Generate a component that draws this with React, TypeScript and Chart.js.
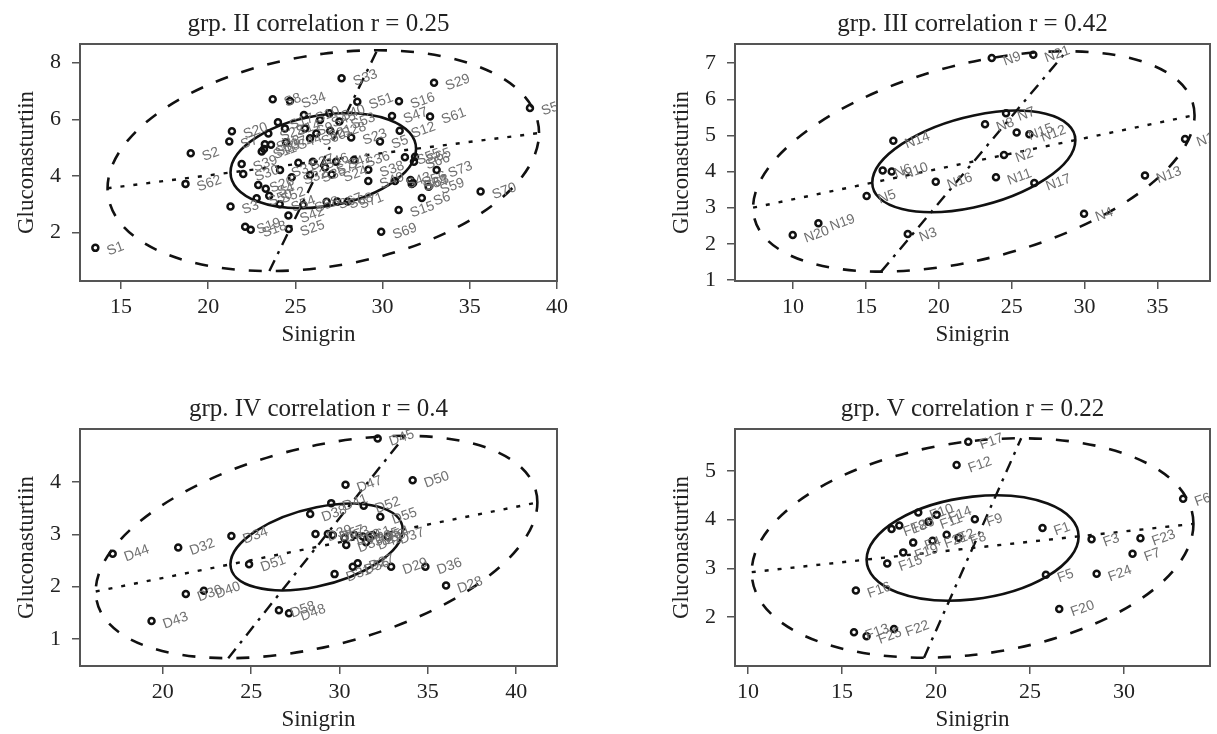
import React, { useEffect, useRef } from "react";
import { Chart, registerables } from "chart.js";

Chart.register(...registerables);

// ---------------- group II ----------------
const grp2Labels = [
  "S1", "S2", "S62", "S20", "S7", "S39", "S30", "S3", "S19", "S18", "S26", "S50", "S52", "S4",
  "S11", "S22", "S37", "S48", "S8", "S34", "S17", "S14", "S44", "S31", "S32", "S54", "S42", "S25",
  "S10", "S9", "S60", "S45", "S40", "S53", "S21", "S28", "S27", "S35", "S46", "S72", "S41", "S24",
  "S58", "S67", "S68", "S71", "S23", "S36", "S38", "S49", "S5", "S33", "S51", "S16", "S47", "S61",
  "S12", "S29", "S57", "S55", "S65", "S66", "S43", "S64", "S56", "S59", "S73", "S6", "S15", "S69", "S70",
  "S13", "S63",
];
const grp2Sinigrin = [
  13.53, 19.0, 18.7, 21.36, 21.21, 21.92, 22.01, 21.28, 22.12, 22.44, 22.87, 22.78, 23.5, 23.3,
  23.07, 23.45, 23.6, 23.25, 23.7, 24.69, 24.0, 24.4, 24.46, 24.12, 24.79, 24.1, 24.6, 24.62,
  25.49, 25.55, 25.84, 26.41, 26.95, 27.52, 26.2, 27.0, 25.17, 25.84, 26.0, 26.7, 27.33, 27.08,
  25.45, 26.79, 27.4, 28.0, 28.2, 28.36, 29.18, 29.18, 29.85, 27.65, 28.55, 30.94, 30.54, 32.72,
  30.98, 32.95, 38.45, 31.28, 31.86, 31.8, 30.71, 31.67, 31.6, 32.64, 33.1, 32.25, 30.92, 29.92, 35.62,
  23.2, 31.75,
];
const grp2Gluco = [
  1.46, 4.8, 3.72, 5.58, 5.22, 4.42, 4.07, 2.92, 2.21, 2.1, 3.68, 3.21, 3.3, 3.55,
  4.86, 5.5, 5.1, 5.12, 6.71, 6.65, 5.9, 5.68, 5.19, 4.21, 3.95, 3.0, 2.6, 2.13,
  6.15, 5.68, 5.33, 5.98, 6.21, 5.92, 5.5, 5.6, 4.47, 4.03, 4.5, 4.3, 4.5, 4.05,
  2.97, 3.09, 3.1, 3.1, 5.36, 4.56, 4.22, 3.82, 5.22, 7.45, 6.62, 6.64, 6.12, 6.1,
  5.6, 7.29, 6.4, 4.66, 4.68, 4.5, 3.82, 3.72, 3.86, 3.62, 4.21, 3.22, 2.8, 2.03, 3.45,
  4.95, 3.75,
];
const grp2XTicks = [15, 20, 25, 30, 35, 40];
const grp2YTicks = [2, 4, 6, 8];
const grp2Range = [12.65, 40.0, 0.29, 8.66];
// centre x, centre y, outer half-extent x, outer half-extent y, r, inner / outer ratio
const grp2Ellipse = [26.6, 4.54, 12.37, 3.9, 0.25, 0.43];

// ---------------- group III ----------------
const grp3Labels = [
  "N20", "N19", "N5", "N6", "N10", "N14", "N16", "N3", "N9", "N21", "N8", "N7", "N15", "N12",
  "N2", "N11", "N17", "N4", "N13", "N1",
];
const grp3Sinigrin = [
  9.98, 11.74, 15.05, 16.15, 16.77, 16.88, 19.79, 17.87, 23.63, 26.48, 23.17, 24.61, 25.34, 26.21,
  24.47, 23.92, 26.55, 29.96, 34.14, 36.89,
];
const grp3Gluco = [
  2.24, 2.57, 3.32, 4.03, 4.0, 4.85, 3.72, 2.27, 7.14, 7.23, 5.31, 5.61, 5.08, 5.03,
  4.46, 3.84, 3.68, 2.83, 3.89, 4.9,
];
const grp3XTicks = [10, 15, 20, 25, 30, 35];
const grp3YTicks = [1, 2, 3, 4, 5, 6, 7];
const grp3Range = [6.02, 38.6, 0.97, 7.53];
const grp3Ellipse = [22.4, 4.28, 15.14, 3.05, 0.42, 0.46];

// ---------------- group IV ----------------
const grp4Labels = [
  "D44", "D32", "D43", "D30", "D40", "D34", "D51", "D58", "D48", "D38", "D39", "D57", "D41", "D47",
  "D45", "D50", "D52", "D55", "D53", "D60", "D33", "D61", "D35", "D59", "D54", "D37", "D42", "D31",
  "D56", "D27", "D29", "D36", "D28",
];
const grp4Sinigrin = [
  17.16, 20.87, 19.36, 21.3, 22.32, 23.88, 24.88, 26.57, 27.14, 28.34, 28.64, 29.34, 29.53, 30.34,
  32.16, 34.14, 31.37, 32.31, 29.62, 30.28, 30.38, 30.85, 31.32, 31.69, 31.88, 32.73, 31.5, 29.72,
  30.75, 31.03, 32.92, 34.86, 36.03,
];
const grp4Gluco = [
  2.63, 2.75, 1.34, 1.86, 1.92, 2.97, 2.43, 1.55, 1.49, 3.39, 3.01, 3.01, 3.6, 3.95,
  4.84, 4.04, 3.55, 3.34, 2.99, 2.93, 2.8, 2.99, 2.96, 2.93, 2.99, 2.96, 2.85, 2.24,
  2.38, 2.45, 2.38, 2.38, 2.02,
];
const grp4XTicks = [20, 25, 30, 35, 40];
const grp4YTicks = [1, 2, 3, 4];
const grp4Range = [15.31, 42.31, 0.48, 5.02];
const grp4Ellipse = [28.7, 2.76, 12.5, 2.13, 0.4, 0.39];

// ---------------- group V ----------------
const grp5Labels = [
  "F13", "F25", "F22", "F16", "F15", "F19", "F4", "F21", "F2", "F8", "F18", "F26", "F10", "F11",
  "F14", "F9", "F12", "F17", "F1", "F3", "F23", "F7", "F24", "F5", "F20", "F6",
];
const grp5Sinigrin = [
  15.64, 16.31, 17.77, 15.74, 17.41, 18.26, 18.79, 19.82, 20.57, 21.2, 17.64, 18.05, 19.06, 19.6,
  20.04, 22.07, 21.1, 21.72, 25.67, 28.28, 30.88, 30.46, 28.55, 25.85, 26.56, 33.15,
];
const grp5Gluco = [
  1.69, 1.61, 1.76, 2.55, 3.1, 3.33, 3.53, 3.57, 3.69, 3.63, 3.81, 3.88, 4.15, 3.96,
  4.1, 4.01, 5.12, 5.6, 3.83, 3.6, 3.62, 3.3, 2.89, 2.87, 2.17, 4.43,
];
const grp5XTicks = [10, 15, 20, 25, 30];
const grp5YTicks = [2, 3, 4, 5];
const grp5Range = [9.31, 34.58, 1.0, 5.86];
const grp5Ellipse = [21.95, 3.42, 11.75, 2.25, 0.22, 0.48];

const titles = [
  "grp. II correlation r = 0.25",
  "grp. III correlation r = 0.42",
  "grp. IV correlation r = 0.4",
  "grp. V correlation r = 0.22",
];
const xAxisTitle = "Sinigrin";
const yAxisTitle = "Gluconasturtiin";

const panels = [
  { title: titles[0], labels: grp2Labels, xs: grp2Sinigrin, ys: grp2Gluco, xTicks: grp2XTicks, yTicks: grp2YTicks, range: grp2Range, ellipse: grp2Ellipse },
  { title: titles[1], labels: grp3Labels, xs: grp3Sinigrin, ys: grp3Gluco, xTicks: grp3XTicks, yTicks: grp3YTicks, range: grp3Range, ellipse: grp3Ellipse },
  { title: titles[2], labels: grp4Labels, xs: grp4Sinigrin, ys: grp4Gluco, xTicks: grp4XTicks, yTicks: grp4YTicks, range: grp4Range, ellipse: grp4Ellipse },
  { title: titles[3], labels: grp5Labels, xs: grp5Sinigrin, ys: grp5Gluco, xTicks: grp5XTicks, yTicks: grp5YTicks, range: grp5Range, ellipse: grp5Ellipse },
];

// ---------------- layout (pixels) ----------------
const LAYOUT = [
  { left: 0, top: 0, width: 577, height: 349, padRight: 20 },
  { left: 655, top: 0, width: 562, height: 349, padRight: 7 },
  { left: 0, top: 385, width: 577, height: 349, padRight: 20 },
  { left: 655, top: 385, width: 562, height: 349, padRight: 7 },
];
const Y_AXIS_W = 80;
const X_AXIS_H = 68;
const SERIF = '"Liberation Serif", "Times New Roman", serif';
const SANS = '"Liberation Sans", Arial, sans-serif';
const INK = "#111";

type PanelT = (typeof panels)[number];

function strokeEllipse(chart: any, e: number[], k: number, dash: number[]) {
  const { ctx } = chart;
  const xs = chart.scales.x;
  const ys = chart.scales.y;
  const [cx, cy, ax, ay, r] = e;
  const pcx = xs.getPixelForValue(cx);
  const pcy = ys.getPixelForValue(cy);
  const ux = xs.getPixelForValue(cx + k * ax) - pcx;
  const uy = ys.getPixelForValue(cy + k * ay) - pcy;
  const s = Math.sqrt(1 - r * r);
  ctx.save();
  ctx.beginPath();
  ctx.save();
  ctx.transform(ux, uy * r, 0, uy * s, pcx, pcy);
  ctx.arc(0, 0, 1, 0, Math.PI * 2);
  ctx.restore();
  ctx.setLineDash(dash);
  ctx.lineWidth = 2.6;
  ctx.strokeStyle = INK;
  ctx.stroke();
  ctx.restore();
}

function Panel({ p, lay }: { p: PanelT; lay: (typeof LAYOUT)[number] }) {
  const ref = useRef<HTMLCanvasElement>(null);
  useEffect(() => {
    const [cx, cy, ax, ay, r, inner] = p.ellipse;
    const pts = p.xs.map((x, i) => ({ x, y: p.ys[i] }));
    const regYonX = [
      { x: cx - ax, y: cy - ay * r },
      { x: cx + ax, y: cy + ay * r },
    ];
    const regXonY = [
      { x: cx - ax * r, y: cy - ay },
      { x: cx + ax * r, y: cy + ay },
    ];
    const decor = {
      id: "decor",
      beforeDatasetsDraw(chart: any) {
        const ca = chart.chartArea;
        const ctx = chart.ctx;
        ctx.save();
        ctx.beginPath();
        ctx.rect(ca.left, ca.top, ca.right - ca.left, ca.bottom - ca.top);
        ctx.clip();
        strokeEllipse(chart, p.ellipse, 1, [13, 14]);
        strokeEllipse(chart, p.ellipse, inner, []);
        ctx.restore();
      },
      afterDatasetsDraw(chart: any) {
        const ca = chart.chartArea;
        const ctx = chart.ctx;
        const meta = chart.getDatasetMeta(0);
        ctx.save();
        ctx.beginPath();
        ctx.rect(ca.left, ca.top, ca.right - ca.left, ca.bottom - ca.top);
        ctx.clip();
        ctx.fillStyle = "#707070";
        ctx.font = `14px ${SANS}`;
        ctx.textAlign = "left";
        ctx.textBaseline = "middle";
        meta.data.forEach((el: any, i: number) => {
          ctx.save();
          ctx.translate(el.x + 12, el.y + 4);
          ctx.rotate((-20 * Math.PI) / 180);
          ctx.fillText(p.labels[i], 0, 0);
          ctx.restore();
        });
        ctx.restore();
      },
      afterDraw(chart: any) {
        const ca = chart.chartArea;
        const ctx = chart.ctx;
        ctx.save();
        ctx.strokeStyle = "#555";
        ctx.lineWidth = 2;
        ctx.strokeRect(ca.left, ca.top, ca.right - ca.left, ca.bottom - ca.top);
        ctx.restore();
      },
    };
    const tickFont = { family: SERIF, size: 22 };
    const chart = new Chart(ref.current as HTMLCanvasElement, {
      type: "scatter",
      data: {
        datasets: [
          {
            data: pts,
            showLine: false,
            pointRadius: 3.0,
            pointBorderWidth: 2.5,
            pointBorderColor: INK,
            pointBackgroundColor: "rgba(0,0,0,0)",
            pointStyle: "circle",
          },
          {
            data: regYonX,
            showLine: true,
            borderColor: INK,
            borderWidth: 2.4,
            borderDash: [4, 9],
            pointRadius: 0,
            fill: false,
          },
          {
            data: regXonY,
            showLine: true,
            borderColor: INK,
            borderWidth: 2.4,
            borderDash: [12, 7, 3, 7],
            pointRadius: 0,
            fill: false,
          },
        ],
      } as any,
      options: {
        responsive: false,
        animation: false,
        devicePixelRatio: 1,
        events: [],
        layout: { padding: { left: 0, top: 0, right: lay.padRight, bottom: 0 } },
        plugins: {
          legend: { display: false },
          tooltip: { enabled: false },
          title: {
            display: true,
            text: p.title,
            fullSize: false,
            color: "#222",
            font: { family: SERIF, size: 25, weight: "normal", lineHeight: 1.2 },
            padding: { top: 9, bottom: 5 },
          },
        },
        scales: {
          x: {
            type: "linear",
            min: p.range[0],
            max: p.range[1],
            afterBuildTicks: (s: any) => {
              s.ticks = p.xTicks.map((v) => ({ value: v }));
            },
            afterFit: (s: any) => {
              s.height = X_AXIS_H;
            },
            grid: { display: true, drawOnChartArea: false, drawTicks: true, tickLength: 8, color: "#555", lineWidth: 1.5 },
            border: { display: false },
            ticks: { autoSkip: false, maxRotation: 0, padding: 5, color: "#222", font: tickFont },
            title: { display: true, text: xAxisTitle, color: "#222", font: { family: SERIF, size: 23, lineHeight: 1.2 }, padding: { top: 0, bottom: 0 } },
          },
          y: {
            type: "linear",
            min: p.range[2],
            max: p.range[3],
            afterBuildTicks: (s: any) => {
              s.ticks = p.yTicks.map((v) => ({ value: v }));
            },
            afterFit: (s: any) => {
              s.width = Y_AXIS_W;
            },
            grid: { display: true, drawOnChartArea: false, drawTicks: true, tickLength: 8, color: "#555", lineWidth: 1.5 },
            border: { display: false },
            ticks: { autoSkip: false, padding: 11, color: "#222", font: tickFont },
            title: { display: true, text: yAxisTitle, color: "#222", font: { family: SERIF, size: 23, lineHeight: 1.2 }, padding: { top: 13, bottom: 0 } },
          },
        },
      } as any,
      plugins: [decor],
    });
    return () => chart.destroy();
  }, []);
  return (
    <canvas
      ref={ref}
      width={lay.width}
      height={lay.height}
      style={{ position: "absolute", left: lay.left, top: lay.top, width: lay.width, height: lay.height }}
    />
  );
}

export default function App() {
  return (
    <div style={{ position: "absolute", left: 0, top: 0, width: 1217, height: 734, overflow: "hidden", background: "#fff" }}>
      {panels.map((p, i) => (
        <Panel key={i} p={p} lay={LAYOUT[i]} />
      ))}
    </div>
  );
}
